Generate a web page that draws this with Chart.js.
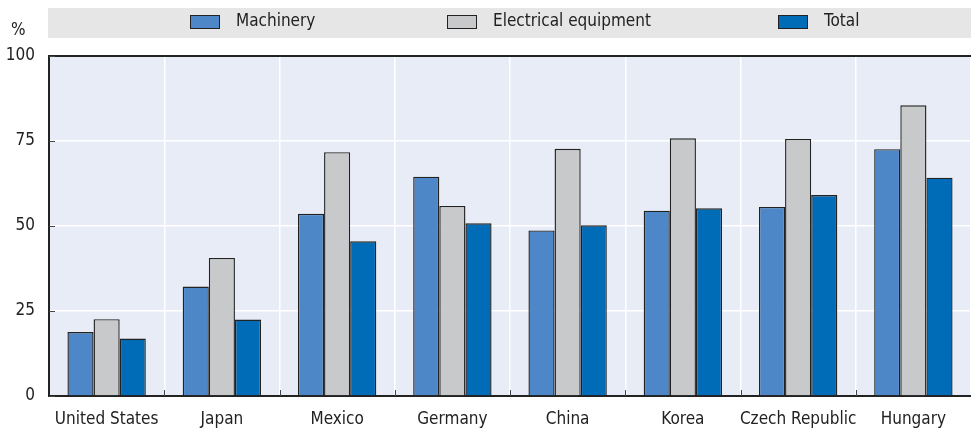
<!DOCTYPE html>
<html>
<head>
<meta charset="utf-8">
<script src="https://cdn.jsdelivr.net/npm/chart.js"></script>
<style>
  html, body { margin: 0; padding: 0; background: #fff; }
  #wrap { width: 971px; height: 431px; position: relative; }
</style>
</head>
<body>
<div id="wrap"><canvas id="myChart"></canvas></div>
<script>
var countries = ['United States', 'Japan', 'Mexico', 'Germany', 'China', 'Korea', 'Czech Republic', 'Hungary'];
var machinery = [18.8, 32.2, 53.6, 64.5, 48.7, 54.5, 55.6, 72.6];
var electrical = [22.6, 40.6, 71.7, 55.9, 72.7, 75.8, 75.6, 85.5];
var total = [16.9, 22.5, 45.5, 50.8, 50.2, 55.2, 59.1, 64.2];
var yTicks = [0, 25, 50, 75, 100];

var FONT = '"Liberation Sans Narrow", "DejaVu Sans Condensed", "Roboto Condensed", sans-serif';
var INK = '#222222';
var legendX = [190, 447, 778]; // left edge of each legend swatch

// grey band + legend, plot background, inner tick marks, "%" label
var decor = {
  id: 'decor',
  beforeDraw: function (chart) {
    var ctx = chart.ctx, a = chart.chartArea;
    ctx.save();
    ctx.fillStyle = '#e8ecf6';
    ctx.fillRect(a.left, a.top, a.right - a.left, a.bottom - a.top);
    ctx.restore();
  },
  afterDraw: function (chart) {
    var ctx = chart.ctx, a = chart.chartArea;
    ctx.save();
    // legend band
    ctx.fillStyle = '#e6e6e6';
    ctx.fillRect(a.left - 1, 8, chart.width - a.left + 1, 30);
    ctx.font = '17px ' + FONT;
    ctx.textBaseline = 'middle';
    chart.data.datasets.forEach(function (d, i) {
      var x = legendX[i];
      ctx.fillStyle = d.backgroundColor;
      ctx.fillRect(x, 15, 30, 14);
      ctx.strokeStyle = INK;
      ctx.lineWidth = 1;
      ctx.strokeRect(x + 0.5, 15.5, 29, 13);
      ctx.fillStyle = INK;
      ctx.fillText(d.label, x + 46, 22);
    });
    // % label
    ctx.fillText('%', 11, 31);
    // top border
    ctx.strokeStyle = INK;
    ctx.lineWidth = 2;
    ctx.beginPath();
    ctx.moveTo(a.left - 1, a.top);
    ctx.lineTo(a.right, a.top);
    ctx.stroke();
    // inner ticks
    ctx.lineWidth = 1;
    ctx.strokeStyle = '#444';
    var ys = chart.scales.y;
    yTicks.forEach(function (v) {
      var py = Math.round(ys.getPixelForValue(v)) + 0.5;
      ctx.beginPath();
      ctx.moveTo(a.left, py);
      ctx.lineTo(a.left + 6, py);
      ctx.stroke();
    });
    var step = (a.right - a.left) / countries.length;
    for (var i = 1; i < countries.length; i++) {
      var px = Math.round(a.left + step * i) + 0.5;
      ctx.beginPath();
      ctx.moveTo(px, a.bottom);
      ctx.lineTo(px, a.bottom - 6);
      ctx.stroke();
    }
    ctx.restore();
  }
};

var ctx = document.getElementById('myChart').getContext('2d');
var chart = new Chart(ctx, {
  type: 'bar',
  data: {
    labels: countries,
    datasets: [{
      label: 'Machinery',
      data: machinery,
      backgroundColor: '#4e87c8',
      borderColor: INK,
      borderWidth: 1.4
    }, {
      label: 'Electrical equipment',
      data: electrical,
      backgroundColor: '#c8c9cb',
      borderColor: INK,
      borderWidth: 1.4
    }, {
      label: 'Total',
      data: total,
      backgroundColor: '#006bb6',
      borderColor: INK,
      borderWidth: 1.4
    }]
  },
  options: {
    responsive: true,
    maintainAspectRatio: false,
    animation: false,
    layout: { padding: { top: 56, right: 0, left: 0, bottom: 0 } },
    datasets: { bar: { categoryPercentage: 0.68, barPercentage: 1.0 } },
    plugins: {
      legend: { display: false },
      tooltip: { enabled: false }
    },
    scales: {
      x: {
        afterFit: function (axis) { axis.height = 35; },
        grid: { color: '#ffffff', lineWidth: 1.5, drawTicks: false },
        border: { color: INK, width: 2 },
        ticks: { color: INK, font: { family: FONT, size: 17 }, padding: 13, maxRotation: 0, autoSkip: false }
      },
      y: {
        min: 0,
        max: 100,
        afterFit: function (axis) { axis.width = 49; },
        afterBuildTicks: function (axis) {
          axis.ticks = yTicks.map(function (v) { return { value: v }; });
        },
        grid: { color: '#ffffff', lineWidth: 1.5, drawTicks: false },
        border: { color: INK, width: 2 },
        ticks: { color: INK, font: { family: FONT, size: 17 }, padding: 14 }
      }
    }
  },
  plugins: [decor]
});
</script>
</body>
</html>
